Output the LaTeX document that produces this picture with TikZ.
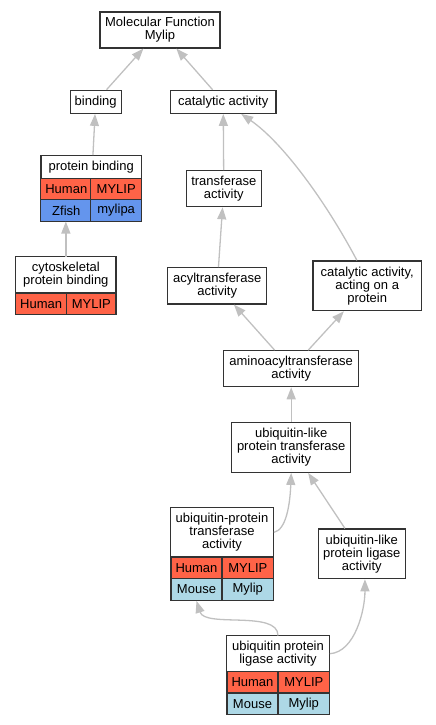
\documentclass[tikz,border=0pt]{standalone}
\usepackage{fontspec}
\setmainfont{Liberation Sans}
\usetikzlibrary{arrows.meta}
\definecolor{humanred}{HTML}{FF6347}
\definecolor{zfishblue}{HTML}{6495ED}
\definecolor{mouseblue}{HTML}{ADD8E6}
\definecolor{edgegray}{HTML}{C0C0C0}
\begin{document}
\begin{tikzpicture}[x=1pt,y=-1pt]
  \tikzset{term/.style={draw=black!80,line width=1.2pt,fill=white,align=center,inner sep=0pt,font=\fontsize{13}{13}\selectfont},
    cell/.style={term,minimum width=51pt,minimum height=21.5pt},
    humancell/.style={cell,fill=humanred},
    zfishcell/.style={cell,fill=zfishblue},
    mousecell/.style={cell,fill=mouseblue},
    tbl/.style={inner sep=0pt},
    isa/.style={draw=edgegray,line width=1.3pt,-{Triangle[length=12pt,width=9pt]}}}%arrows point from child to parent
\useasboundingbox (0,0) rectangle (436,725);
\node[term,minimum width=120pt,minimum height=36pt] (mf) at (160,30) {Molecular Function\\Mylip};
\node[term,minimum width=51pt,minimum height=23pt] (bind) at (95.7,101.8) {binding};
\node[term,minimum width=105.7pt,minimum height=23pt] (cat) at (223.2,101.8) {catalytic activity};
% protein binding
\node[tbl,minimum width=100.3pt,minimum height=66pt] (pb) at (91.2,188.3) {};
\node[term,minimum width=100.3pt,minimum height=23.4pt] (pb-t) at (91.2,167) {protein binding};
\node[humancell] (pb-h1) at (66.3,189.2) {Human};
\node[humancell] (pb-h2) at (116.2,189.2) {MYLIP};
\node[zfishcell] (pb-z1) at (66.3,210.5) {Zfish};
\node[zfishcell] (pb-z2) at (116.2,210.5) {mylipa};
\node[term,minimum width=75pt,minimum height=36pt] (tr) at (223.8,188.7) {transferase\\activity};
% cytoskeletal protein binding
\node[tbl,minimum width=100.3pt,minimum height=58pt] (cpb) at (65.85,285.7) {};
\node[term,minimum width=100.3pt,minimum height=36.3pt] (cpb-t) at (65.85,274.85) {cytoskeletal\\protein binding};
\node[humancell] (cpb-h1) at (41.2,303.85) {Human};
\node[humancell,minimum width=49.3pt] (cpb-h2) at (91.35,303.85) {MYLIP};
\node[term,minimum width=99pt,minimum height=36.3pt] (acyl) at (217.2,285.8) {acyltransferase\\activity};
\node[term,minimum width=108.3pt,minimum height=49.7pt] (cap) at (367.2,285.8) {catalytic activity,\\acting on a\\protein};
\node[term,minimum width=135pt,minimum height=36pt] (amino) at (291.2,368.7) {aminoacyltransferase\\activity};
\node[term,minimum width=119pt,minimum height=50pt] (ult) at (291.2,447.3) {ubiquitin-like\\protein transferase\\activity};
% ubiquitin-protein transferase activity
\node[tbl,minimum width=102.6pt,minimum height=92.6pt] (upt) at (222,554) {};
\node[term,minimum width=102.6pt,minimum height=49.3pt] (upt-t) at (222,532.35) {ubiquitin-protein\\transferase\\activity};
\node[humancell] (upt-h1) at (196.5,567.85) {Human};
\node[humancell] (upt-h2) at (247.8,567.85) {MYLIP};
\node[mousecell] (upt-m1) at (196.5,589.5) {Mouse};
\node[mousecell] (upt-m2) at (247.8,589.5) {Mylip};
\node[term,minimum width=87pt,minimum height=49.7pt] (ull) at (361.8,553.85) {ubiquitin-like\\protein ligase\\activity};
% ubiquitin protein ligase activity
\node[tbl,minimum width=102.6pt,minimum height=78.6pt] (upl) at (278,675) {};
\node[term,minimum width=102.6pt,minimum height=36pt] (upl-t) at (278,653.7) {ubiquitin protein\\ligase activity};
\node[humancell] (upl-h1) at (252.5,682.5) {Human};
\node[humancell] (upl-h2) at (303.8,682.5) {MYLIP};
\node[mousecell] (upl-m1) at (252.5,703.8) {Mouse};
\node[mousecell] (upl-m2) at (303.8,703.8) {Mylip};
\draw[isa] (bind) -- (mf);
\draw[isa] (cat) -- (mf);
\draw[isa] (pb) -- (bind);
\draw[isa] (tr) -- (cat);
\draw[isa] (cpb.north) -- (cpb.north |- pb.south);
\draw[isa] (cap.112) .. controls (325,200) and (282,142) .. (cat.-34);
\draw[isa] (acyl) -- (tr);
\draw[isa] (amino) -- (acyl);
\draw[isa] (amino) -- (cap);
\draw[isa] (ult) -- (amino);
\draw[isa] (upt-t.east) .. controls (286,530) and (290,505) .. (ult.south);
\draw[isa] (ull) -- (ult);
\draw[isa] (upl.north) .. controls (278,610) and (205,628) .. (upt-m1.south);
\draw[isa] (upl-t.east) .. controls (355,652) and (365,610) .. (ull.-83);
\end{tikzpicture}
\end{document}
